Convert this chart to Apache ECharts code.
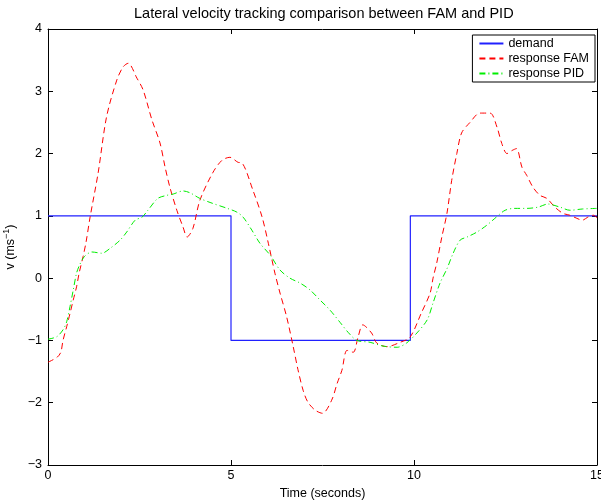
<!DOCTYPE html>
<html>
<head>
<meta charset="utf-8">
<script src="https://cdn.jsdelivr.net/npm/echarts@6/dist/echarts.min.js"></script>
<style>
  html, body { margin: 0; padding: 0; background: #fff; }
  #chart { width: 601px; height: 500px; }
</style>
</head>
<body>
<div id="chart"></div>
<script>
// demand step signal
const demandTime = [0, 5, 5, 9.9, 9.9, 15];
const demandValue = [1, 1, -1, -1, 1, 1];

// FAM response
const famTime = [0, 0.25, 0.35, 0.41, 0.51, 0.6, 0.69, 0.78, 0.85, 0.96, 1.04, 1.15, 1.37, 1.6, 1.88, 2.05, 2.19, 2.43, 2.6, 2.84,
  3.06, 3.2, 3.33, 3.52, 3.69, 3.8, 3.96, 4.15, 4.5, 4.75, 4.97, 5.19, 5.3, 5.6, 5.85, 6.02, 6.2, 6.34, 6.52, 6.7,
  6.83, 6.97, 7.1, 7.3, 7.5, 7.75, 7.9, 8.03, 8.17, 8.34, 8.47, 8.6, 8.84, 8.98, 9.26, 9.62, 9.89, 10.2, 10.44, 10.52,
  10.62, 10.76, 10.9, 11.03, 11.17, 11.3, 11.53, 11.8, 12.08, 12.27, 12.4, 12.54, 12.68, 12.8, 12.95, 13.08, 13.25, 13.44, 13.63, 13.85,
  14.07, 14.26, 14.45, 14.6, 14.75, 14.9, 15];
const famValue = [-1.35, -1.27, -1.19, -1.0, -0.78, -0.57, -0.35, -0.14, 0.08, 0.35, 0.58, 0.98, 1.69, 2.59, 3.18, 3.39, 3.45, 3.21, 3.02, 2.54,
  2.17, 1.78, 1.46, 1.09, 0.82, 0.66, 0.8, 1.25, 1.69, 1.89, 1.94, 1.86, 1.85, 1.41, 0.98, 0.56, 0.08, -0.24, -0.62, -1.1,
  -1.47, -1.8, -1.99, -2.12, -2.17, -1.96, -1.69, -1.48, -1.16, -1.19, -0.95, -0.75, -0.88, -1.04, -1.1, -1.03, -0.95, -0.56, -0.24, 0.0,
  0.24, 0.66, 1.04, 1.57, 2.0, 2.33, 2.5, 2.65, 2.65, 2.42, 2.16, 2.0, 2.05, 2.08, 1.78, 1.65, 1.46, 1.33, 1.28, 1.14,
  1.04, 1.01, 0.96, 0.93, 0.98, 1.01, 0.97];

// PID response
const pidTime = [0, 0.24, 0.41, 0.51, 0.6, 0.69, 0.78, 0.87, 1.0, 1.2, 1.47, 1.7, 1.97, 2.15, 2.38, 2.57, 2.73, 3.0, 3.25, 3.42,
  3.69, 3.88, 4.15, 4.5, 4.9, 5.16, 5.33, 5.57, 5.79, 6.07, 6.34, 6.61, 6.89, 7.16, 7.43, 7.7, 7.98, 8.2, 8.44, 8.8,
  9.15, 9.54, 9.8, 10.08, 10.36, 10.52, 10.71, 10.9, 11.07, 11.26, 11.45, 11.72, 11.99, 12.21, 12.49, 12.76, 13.08, 13.39, 13.66, 13.99,
  14.26, 14.6, 15];
const pidValue = [-0.98, -0.94, -0.83, -0.7, -0.46, -0.19, 0.08, 0.22, 0.35, 0.42, 0.4, 0.48, 0.61, 0.74, 0.93, 0.98, 1.09, 1.28, 1.33, 1.35,
  1.4, 1.37, 1.28, 1.2, 1.12, 1.06, 0.98, 0.77, 0.56, 0.37, 0.13, 0.0, -0.08, -0.19, -0.35, -0.51, -0.71, -0.87, -1.0, -1.03,
  -1.09, -1.11, -1.04, -0.88, -0.67, -0.4, -0.08, 0.15, 0.4, 0.61, 0.66, 0.74, 0.85, 0.96, 1.09, 1.12, 1.12, 1.14, 1.19, 1.14,
  1.09, 1.11, 1.12];

const xTicks = [0, 5, 10, 15];
const yTicks = [-3, -2, -1, 0, 1, 2, 3, 4];

const font = "Liberation Sans, Arial, sans-serif";
const minus = (v) => String(v).replace("-", "\u2212");
const zip = (a, b) => a.map((t, i) => [t, b[i]]);

let chartDom = document.getElementById("chart");
let myChart = echarts.init(chartDom);

const boxAxis = {
    axisLine: { show: true, onZero: false, lineStyle: { color: "#000", width: 1 } },
    axisTick: { show: true, inside: true, length: 5, lineStyle: { color: "#000" } },
    splitLine: { show: false },
};

let chartOption = {
    animation: false,
    backgroundColor: "#fff",
    title: {
        text: "Lateral velocity tracking comparison between FAM and PID",
        left: 129,
        top: 1,
        textStyle: { fontFamily: font, fontSize: 14.5, fontWeight: "normal", color: "#000" },
    },
    grid: {
        left: 48,
        right: 4,
        top: 29,
        bottom: 35,
        outerBoundsMode: "none",
    },
    legend: {
        orient: "vertical",
        right: 6,
        top: 35,
        padding: [2, 6, 2, 6],
        itemGap: 2,
        itemWidth: 24,
        itemHeight: 10,
        borderColor: "#000",
        borderWidth: 1,
        backgroundColor: "#fff",
        itemStyle: { opacity: 0 },
        textStyle: { fontFamily: font, fontSize: 12.5, color: "#000" },
        data: ["demand", "response FAM", "response PID"],
    },
    xAxis: [
        {
            ...boxAxis,
            type: "value",
            min: 0,
            max: 15,
            interval: 5,
            position: "bottom",
            name: "Time (seconds)",
            nameLocation: "middle",
            nameGap: 17,
            nameTextStyle: { fontFamily: font, fontSize: 12.5, color: "#000" },
            axisLabel: { fontFamily: font, fontSize: 12.5, color: "#000", margin: 4,
                formatter: (v) => (xTicks.includes(v) ? minus(v) : "") },
        },
        {
            ...boxAxis,
            type: "value",
            min: 0,
            max: 15,
            interval: 5,
            position: "top",
            axisLabel: { show: false },
        },
    ],
    yAxis: [
        {
            ...boxAxis,
            type: "value",
            min: -3,
            max: 4,
            interval: 1,
            position: "left",
            name: "v (ms{sup|\u22121})",
            nameLocation: "middle",
            nameRotate: 90,
            nameGap: 24,
            nameTextStyle: {
                fontFamily: font, fontSize: 12.5, color: "#000",
                rich: { sup: { fontFamily: font, fontSize: 9, verticalAlign: "top", padding: [0, 0, 7, 0], color: "#000" } },
            },
            axisLabel: { fontFamily: font, fontSize: 12.5, color: "#000", margin: 6,
                formatter: (v) => (yTicks.includes(v) ? minus(v) : "") },
        },
        {
            ...boxAxis,
            type: "value",
            min: -3,
            max: 4,
            interval: 1,
            position: "right",
            axisLabel: { show: false },
        },
    ],
    series: [
        {
            name: "demand",
            type: "line",
            symbol: "none",
            color: "#2020ff",
            lineStyle: { width: 1.2, color: "#2020ff" },
            data: zip(demandTime, demandValue),
            z: 3,
        },
        {
            name: "response FAM",
            type: "line",
            symbol: "none",
            smooth: 0.3,
            color: "#ff0000",
            lineStyle: { width: 1, color: "#ff0000", type: [6, 4] },
            data: zip(famTime, famValue),
            z: 4,
        },
        {
            name: "response PID",
            type: "line",
            symbol: "none",
            smooth: 0.3,
            color: "#00ee00",
            lineStyle: { width: 1, color: "#00ee00", type: [6, 3, 1, 3] },
            data: zip(pidTime, pidValue),
            z: 5,
        },
    ],
};

myChart.setOption(chartOption);
window.onresize = () => {
    myChart.resize();
};
</script>
</body>
</html>
